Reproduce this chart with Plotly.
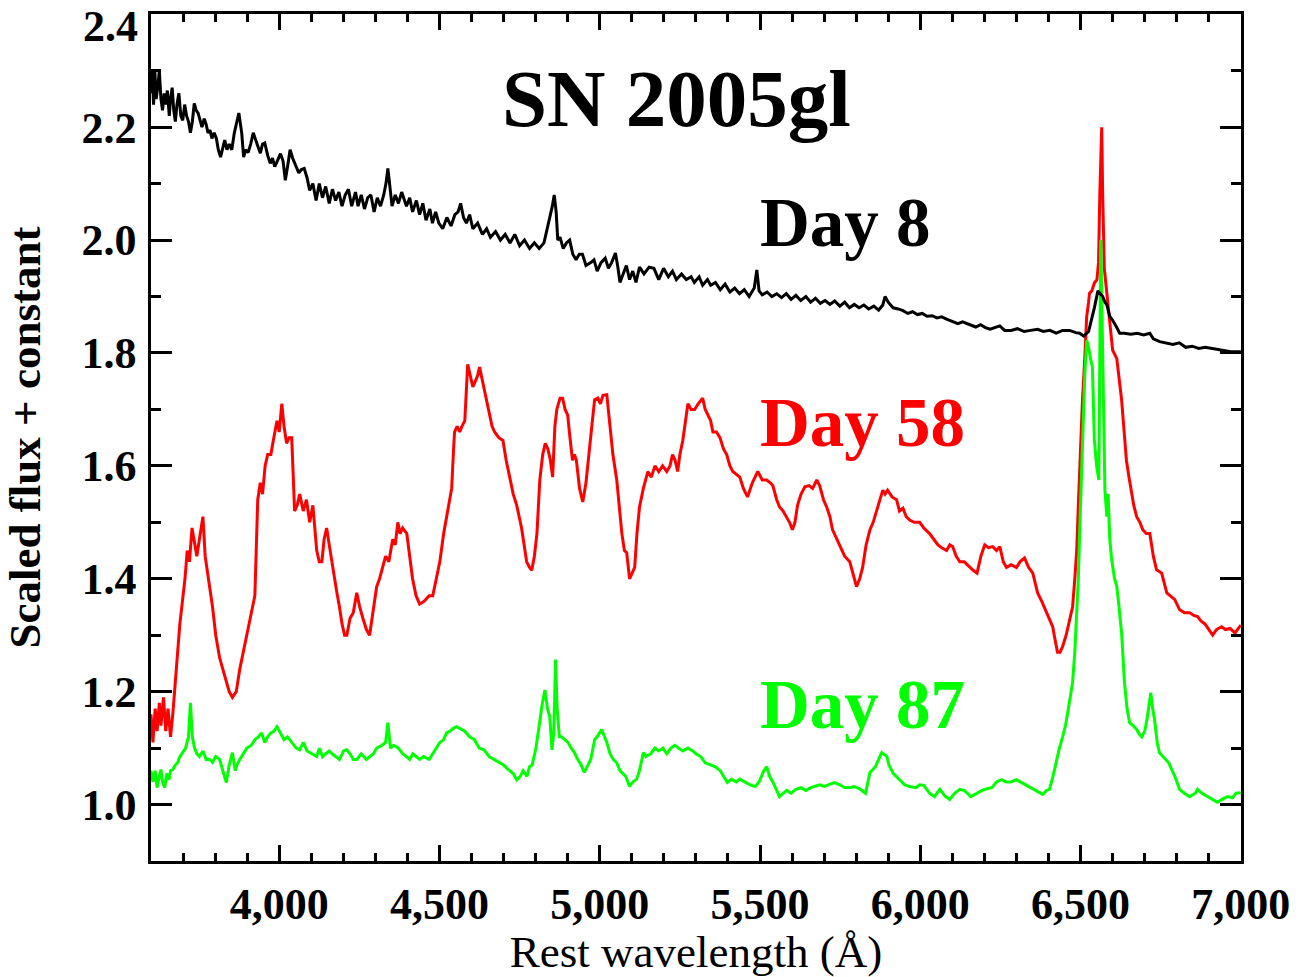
import plotly.graph_objects as go

# ---------------- Data ----------------
day8_wave = [3600,3604,3608,3612,3616,3621,3626,3631,3636,3641,3646,3651,3657,3661,3666,3671,3676,3681,3687,3693,
             3699,3705,3711,3717,3723,3729,3735,3741,3747,3753,3759,3766,3772,3778,3784,3790,3797,3804,3810,3817,
             3824,3830,3837,3844,3852,3860,3868,3874,3883,3889,3895,3903,3911,3919,3925,3933,3941,3948,3955,3964,
             3972,3979,3986,3994,4004,4012,4019,4026,4034,4042,4053,4061,4069,4078,4087,4095,4105,4115,4125,4135,
             4145,4156,4166,4176,4186,4196,4206,4216,4226,4238,4246,4256,4266,4276,4286,4296,4306,4316,4326,4333,
             4339,4345,4352,4362,4372,4382,4397,4407,4416,4428,4438,4448,4458,4470,4478,4488,4498,4510,4523,4536,
             4548,4558,4566,4575,4584,4594,4604,4619,4634,4647,4659,4675,4690,4705,4720,4735,4750,4765,4781,4796,
             4811,4826,4841,4852,4858,4864,4869,4876,4886,4896,4906,4916,4926,4936,4946,4957,4972,4982,4992,5004,
             5017,5027,5037,5049,5057,5063,5073,5083,5093,5103,5113,5124,5138,5154,5169,5184,5199,5214,5227,5239,
             5255,5270,5285,5295,5310,5321,5336,5346,5361,5376,5391,5406,5421,5436,5451,5466,5482,5490,5497,5507,
             5522,5537,5552,5567,5582,5597,5612,5627,5643,5658,5673,5688,5703,5718,5733,5749,5764,5779,5794,5809,
             5824,5839,5855,5870,5883,5890,5900,5915,5931,5946,5961,5976,5991,6006,6021,6037,6052,6067,6082,6101,
             6117,6132,6153,6173,6188,6203,6218,6233,6248,6263,6283,6303,6324,6344,6366,6384,6404,6424,6444,6466,
             6485,6497,6510,6525,6535,6543,6554,6561,6569,6576,6582,6591,6600,6613,6622,6636,6657,6677,6697,6716,
             6727,6747,6768,6788,6808,6828,6848,6869,6889,6909,6929,6949,6969,7000]
day8_flux = [2.26,2.30,2.24,2.30,2.25,2.27,2.30,2.25,2.23,2.26,2.24,2.265,2.22,2.25,2.27,2.23,2.21,2.24,2.26,2.22,
             2.212,2.24,2.22,2.21,2.19,2.21,2.242,2.23,2.225,2.21,2.20,2.215,2.205,2.19,2.195,2.18,2.19,2.18,2.16,2.147,
             2.165,2.177,2.16,2.17,2.16,2.19,2.21,2.225,2.19,2.147,2.16,2.155,2.17,2.19,2.18,2.165,2.154,2.17,2.172,2.15,
             2.136,2.145,2.13,2.14,2.153,2.14,2.106,2.13,2.16,2.145,2.13,2.119,2.125,2.127,2.11,2.088,2.10,2.07,2.10,2.075,
             2.095,2.065,2.09,2.07,2.085,2.06,2.08,2.09,2.06,2.085,2.06,2.08,2.055,2.075,2.08,2.05,2.075,2.06,2.08,2.10,
             2.127,2.09,2.06,2.08,2.065,2.085,2.06,2.075,2.05,2.07,2.045,2.065,2.035,2.055,2.03,2.05,2.03,2.02,2.04,2.025,
             2.045,2.05,2.065,2.04,2.03,2.045,2.02,2.03,2.01,2.02,2.005,2.015,2.00,2.01,1.995,2.01,1.99,2.00,1.985,1.995,
             1.985,1.995,2.03,2.06,2.08,2.05,2.00,2.005,1.985,1.995,2.00,1.975,1.965,1.975,1.975,1.955,1.96,1.965,1.945,1.96,
             1.968,1.95,1.96,1.977,1.95,1.925,1.94,1.955,1.93,1.945,1.925,1.952,1.94,1.952,1.95,1.93,1.95,1.935,1.945,1.93,
             1.94,1.93,1.935,1.925,1.935,1.92,1.93,1.92,1.925,1.912,1.922,1.908,1.915,1.905,1.912,1.90,1.915,1.947,1.91,1.903,
             1.908,1.90,1.905,1.898,1.905,1.895,1.902,1.893,1.90,1.89,1.897,1.888,1.893,1.886,1.892,1.883,1.89,1.88,1.886,1.88,
             1.885,1.878,1.883,1.876,1.885,1.90,1.89,1.88,1.878,1.875,1.87,1.873,1.868,1.87,1.865,1.866,1.862,1.864,1.86,1.855,
             1.852,1.855,1.85,1.846,1.85,1.845,1.842,1.845,1.848,1.84,1.84,1.843,1.838,1.84,1.842,1.838,1.84,1.835,1.84,1.84,
             1.836,1.835,1.83,1.838,1.86,1.88,1.91,1.905,1.90,1.89,1.885,1.865,1.858,1.845,1.835,1.835,1.833,1.835,1.832,1.835,
             1.825,1.82,1.818,1.815,1.818,1.81,1.812,1.808,1.81,1.808,1.806,1.804,1.802,1.802]

day58_wave = [3600,3606,3613,3619,3626,3631,3639,3646,3653,3661,3668,3676,3683,3690,3698,3706,3713,3720,3728,3736,
              3743,3751,3762,3769,3777,3783,3792,3802,3814,3824,3834,3844,3854,3866,3877,3888,3903,3915,3924,3933,
              3941,3948,3956,3964,3974,3980,3986,3993,4000,4008,4015,4023,4031,4039,4048,4056,4064,4075,4085,4095,
              4105,4112,4117,4125,4133,4140,4148,4156,4164,4172,4180,4188,4196,4204,4211,4221,4231,4242,4251,4261,
              4272,4282,4292,4304,4313,4322,4332,4342,4354,4362,4370,4377,4385,4398,4407,4416,4427,4438,4452,4468,
              4479,4490,4501,4513,4522,4530,4538,4544,4547,4555,4563,4570,4579,4588,4596,4604,4612,4619,4625,4634,
              4641,4649,4656,4664,4672,4685,4698,4708,4719,4730,4741,4748,4756,4764,4772,4781,4788,4796,4804,4813,
              4822,4830,4838,4846,4853,4860,4866,4876,4884,4892,4900,4907,4915,4921,4927,4937,4947,4957,4969,4977,
              4984,4994,5002,5010,5022,5031,5041,5053,5061,5069,5077,5084,5093,5101,5109,5116,5124,5136,5150,5161,
              5172,5184,5196,5209,5219,5227,5235,5243,5250,5259,5267,5275,5285,5296,5307,5321,5329,5337,5346,5353,
              5364,5375,5386,5396,5406,5415,5426,5437,5448,5461,5476,5493,5507,5521,5532,5540,5552,5561,5572,5583,
              5592,5601,5609,5617,5628,5640,5653,5664,5677,5686,5698,5708,5718,5726,5739,5749,5764,5780,5789,5801,
              5811,5820,5831,5843,5853,5864,5874,5883,5890,5898,5912,5926,5935,5946,5956,5967,5981,5998,6011,6029,
              6042,6055,6067,6082,6092,6101,6112,6123,6137,6154,6165,6177,6189,6201,6213,6226,6238,6248,6259,6269,
              6283,6300,6311,6325,6338,6351,6359,6366,6379,6394,6404,6413,6421,6428,6436,6444,6455,6466,6475,6482,
              6488,6493,6497,6502,6506,6513,6519,6525,6528,6535,6543,6551,6556,6560,6566,6569,6574,6582,6591,6600,
              6613,6622,6628,6636,6643,6651,6659,6666,6675,6685,6694,6705,6716,6727,6737,6753,6769,6781,6794,6809,
              6824,6840,6853,6865,6876,6888,6899,6912,6924,6940,6952,6966,6982,7000]
day58_flux = [1.16,1.11,1.17,1.13,1.18,1.14,1.19,1.13,1.17,1.12,1.16,1.22,1.27,1.32,1.36,1.40,1.45,1.43,1.49,1.46,
              1.44,1.47,1.51,1.44,1.41,1.39,1.35,1.30,1.26,1.24,1.22,1.20,1.19,1.20,1.24,1.27,1.31,1.34,1.37,1.54,
              1.57,1.55,1.60,1.62,1.62,1.64,1.66,1.68,1.66,1.71,1.67,1.64,1.65,1.65,1.52,1.53,1.55,1.52,1.54,1.50,
              1.53,1.49,1.45,1.43,1.43,1.47,1.49,1.46,1.43,1.40,1.375,1.35,1.32,1.30,1.30,1.33,1.34,1.375,1.35,1.33,
              1.31,1.30,1.34,1.386,1.40,1.42,1.44,1.43,1.47,1.46,1.50,1.48,1.49,1.48,1.44,1.40,1.37,1.355,1.36,1.37,
              1.37,1.40,1.43,1.48,1.51,1.54,1.56,1.63,1.66,1.67,1.66,1.67,1.68,1.78,1.76,1.74,1.75,1.76,1.775,1.75,
              1.73,1.71,1.69,1.67,1.66,1.65,1.645,1.61,1.58,1.55,1.53,1.51,1.49,1.46,1.43,1.42,1.415,1.44,1.48,1.575,
              1.62,1.64,1.63,1.61,1.58,1.67,1.70,1.72,1.72,1.70,1.69,1.65,1.61,1.62,1.61,1.56,1.536,1.57,1.63,1.68,
              1.717,1.72,1.71,1.725,1.726,1.67,1.62,1.575,1.52,1.48,1.45,1.446,1.40,1.41,1.42,1.48,1.527,1.56,1.59,1.58,
              1.60,1.59,1.60,1.59,1.60,1.62,1.61,1.59,1.62,1.645,1.68,1.71,1.70,1.70,1.71,1.72,1.70,1.69,1.68,1.66,
              1.66,1.65,1.63,1.62,1.60,1.59,1.585,1.58,1.56,1.545,1.57,1.59,1.575,1.575,1.57,1.565,1.54,1.527,1.52,1.51,
              1.50,1.487,1.50,1.53,1.55,1.563,1.565,1.56,1.575,1.565,1.54,1.527,1.51,1.487,1.47,1.457,1.44,1.43,1.41,1.386,
              1.40,1.42,1.46,1.487,1.50,1.52,1.54,1.557,1.55,1.557,1.545,1.54,1.52,1.525,1.51,1.504,1.50,1.50,1.49,1.48,
              1.47,1.46,1.455,1.45,1.46,1.457,1.44,1.43,1.43,1.42,1.415,1.41,1.44,1.46,1.455,1.457,1.45,1.457,1.43,1.42,
              1.425,1.42,1.43,1.437,1.42,1.41,1.39,1.375,1.36,1.34,1.33,1.315,1.29,1.27,1.27,1.28,1.30,1.327,1.35,1.40,
              1.45,1.53,1.60,1.66,1.717,1.79,1.864,1.89,1.906,1.91,1.924,1.93,1.96,2.08,2.20,2.08,1.95,1.906,1.858,1.805,
              1.79,1.747,1.717,1.66,1.61,1.58,1.552,1.53,1.51,1.50,1.487,1.48,1.48,1.44,1.416,1.41,1.375,1.37,1.363,1.345,
              1.34,1.34,1.335,1.333,1.325,1.32,1.31,1.30,1.31,1.315,1.31,1.312,1.304,1.318]

day87_wave = [3600,3606,3613,3619,3626,3631,3636,3643,3649,3656,3661,3668,3676,3683,3690,3699,3708,3717,3723,3729,
              3736,3743,3751,3762,3772,3783,3792,3802,3814,3824,3835,3844,3854,3863,3868,3877,3888,3899,3913,3924,
              3935,3945,3955,3964,3974,3984,3993,4004,4015,4026,4039,4053,4064,4075,4087,4100,4117,4125,4135,4145,
              4156,4165,4176,4188,4201,4211,4221,4231,4242,4256,4272,4282,4294,4304,4321,4332,4339,4347,4357,4372,
              4385,4397,4407,4417,4428,4438,4450,4468,4479,4490,4501,4513,4522,4533,4543,4553,4563,4579,4594,4609,
              4624,4639,4655,4670,4685,4700,4715,4730,4741,4752,4761,4773,4781,4789,4801,4813,4821,4829,4837,4844,
              4851,4857,4862,4867,4874,4881,4891,4901,4911,4921,4931,4942,4952,4962,4972,4984,4992,5006,5015,5022,
              5032,5042,5053,5063,5081,5093,5103,5115,5124,5136,5144,5159,5172,5184,5197,5209,5222,5234,5246,5259,
              5275,5290,5300,5315,5329,5346,5361,5376,5386,5398,5411,5426,5437,5451,5469,5485,5497,5512,5521,5530,
              5540,5552,5561,5572,5583,5597,5612,5628,5643,5658,5671,5686,5700,5715,5732,5749,5764,5780,5794,5811,
              5829,5843,5860,5870,5880,5896,5902,5916,5934,5951,5967,5986,5998,6011,6029,6044,6061,6077,6092,6107,
              6123,6137,6158,6175,6193,6208,6223,6238,6253,6268,6283,6300,6313,6329,6344,6364,6382,6394,6403,6414,
              6425,6434,6444,6453,6460,6467,6475,6482,6488,6493,6497,6502,6506,6513,6519,6525,6531,6537,6543,6550,
              6557,6561,6563,6566,6569,6573,6576,6582,6586,6591,6597,6606,6613,6620,6628,6637,6645,6653,6664,6675,
              6683,6691,6700,6707,6713,6719,6725,6731,6739,6746,6757,6775,6794,6809,6824,6840,6858,6865,6879,6896,
              6909,6927,6944,6959,6974,6985,7000]
day87_flux = [1.06,1.04,1.06,1.03,1.05,1.062,1.04,1.03,1.055,1.044,1.06,1.062,1.07,1.074,1.085,1.092,1.10,1.12,1.18,1.12,
              1.10,1.09,1.085,1.095,1.08,1.08,1.075,1.085,1.08,1.06,1.039,1.07,1.092,1.06,1.07,1.08,1.09,1.10,1.105,1.115,
              1.12,1.127,1.11,1.12,1.127,1.13,1.138,1.125,1.115,1.12,1.11,1.10,1.097,1.11,1.095,1.09,1.085,1.10,1.085,1.09,
              1.095,1.09,1.085,1.08,1.095,1.097,1.09,1.08,1.08,1.09,1.08,1.085,1.09,1.10,1.105,1.11,1.145,1.10,1.105,1.10,
              1.09,1.085,1.08,1.09,1.085,1.08,1.085,1.08,1.09,1.10,1.11,1.115,1.127,1.13,1.135,1.138,1.135,1.13,1.12,1.115,
              1.10,1.097,1.085,1.08,1.074,1.07,1.062,1.055,1.044,1.05,1.06,1.05,1.067,1.07,1.10,1.15,1.18,1.203,1.17,1.156,
              1.097,1.13,1.257,1.17,1.12,1.12,1.115,1.11,1.10,1.092,1.08,1.07,1.057,1.07,1.08,1.115,1.12,1.133,1.12,1.11,
              1.09,1.08,1.074,1.06,1.05,1.032,1.04,1.045,1.06,1.092,1.085,1.09,1.10,1.095,1.10,1.09,1.10,1.105,1.10,1.095,
              1.10,1.095,1.09,1.085,1.074,1.07,1.067,1.06,1.05,1.039,1.045,1.04,1.045,1.04,1.035,1.032,1.04,1.06,1.067,1.05,
              1.04,1.025,1.014,1.02,1.025,1.02,1.027,1.03,1.025,1.03,1.032,1.035,1.032,1.035,1.039,1.035,1.03,1.03,1.032,1.028,
              1.02,1.057,1.067,1.08,1.092,1.085,1.07,1.055,1.045,1.035,1.032,1.03,1.035,1.034,1.02,1.014,1.027,1.015,1.009,1.02,
              1.027,1.025,1.014,1.02,1.025,1.028,1.03,1.04,1.044,1.04,1.04,1.044,1.04,1.035,1.03,1.025,1.018,1.025,1.027,1.05,
              1.08,1.10,1.12,1.14,1.163,1.19,1.216,1.27,1.333,1.40,1.48,1.57,1.66,1.76,1.823,1.81,1.79,1.775,1.646,1.60,
              1.575,1.80,2.00,1.90,1.80,1.60,1.557,1.51,1.55,1.47,1.434,1.40,1.386,1.35,1.304,1.216,1.17,1.145,1.14,1.133,
              1.125,1.12,1.13,1.15,1.17,1.198,1.17,1.15,1.11,1.092,1.085,1.074,1.05,1.027,1.02,1.014,1.02,1.027,1.02,1.014,
              1.01,1.004,1.01,1.014,1.012,1.02,1.021]

x_tick_vals = [4000, 4500, 5000, 5500, 6000, 6500, 7000]
x_tick_text = ["4,000", "4,500", "5,000", "5,500", "6,000", "6,500", "7,000"]
y_tick_vals = [1.0, 1.2, 1.4, 1.6, 1.8, 2.0, 2.2, 2.4]
y_tick_text = ["1.0", "1.2", "1.4", "1.6", "1.8", "2.0", "2.2", "2.4"]

FONT = "Liberation Serif, Times New Roman, serif"
LW = 3
TICKFONT = dict(family=FONT, size=44, color="black", weight="bold")

fig = go.Figure()
fig.add_trace(go.Scatter(x=day58_wave, y=day58_flux, mode="lines",
                         line=dict(color="#ff0000", width=LW), name="Day 58"))
fig.add_trace(go.Scatter(x=day87_wave, y=day87_flux, mode="lines",
                         line=dict(color="#00ff00", width=LW), name="Day 87"))
fig.add_trace(go.Scatter(x=day8_wave, y=day8_flux, mode="lines",
                         line=dict(color="#000000", width=LW), name="Day 8"))

axis_common = dict(
    showline=True, linewidth=2.6, linecolor="black", mirror="allticks",
    ticks="inside", tickwidth=2.6, tickcolor="black",
    showgrid=False, zeroline=False, tickfont=TICKFONT,
)

fig.update_xaxes(**axis_common, range=[3600, 7000.5], tickvals=x_tick_vals, ticktext=x_tick_text,
                 ticklen=16, ticklabelstandoff=2,
                 minor=dict(ticks="inside", ticklen=8, tickwidth=2.6, tickcolor="black", dtick=100, tick0=4000),
                 title=dict(text="Rest wavelength (Å)", font=dict(family=FONT, size=45, color="black"), standoff=12))
fig.update_yaxes(**axis_common, range=[0.9, 2.4005], tickvals=y_tick_vals, ticktext=y_tick_text,
                 ticklen=21, ticklabelstandoff=3,
                 minor=dict(ticks="inside", ticklen=10, tickwidth=2.6, tickcolor="black", dtick=0.1, tick0=1.0),
                 title=dict(text="Scaled flux + constant",
                            font=dict(family=FONT, size=45, color="black", weight="bold"), standoff=32))

# the top tick label would overflow the page, so it is drawn nudged downwards (as in the reference)
fig.add_annotation(x=0, y=y_tick_vals[-1], xref="paper", yref="y", text=y_tick_text[-1],
                   showarrow=False, xanchor="right", yanchor="middle", xshift=-12, yshift=-12,
                   borderpad=0, font=TICKFONT)

def label(text, x, y, size, color):
    fig.add_annotation(x=x, y=y, xref="x", yref="y", text=text, showarrow=False,
                       xanchor="left", yanchor="middle",
                       font=dict(family=FONT, size=size, color=color, weight="bold"))

label("SN 2005gl", 4690, 2.250, 81, "black")
label("Day 8", 5493, 2.030, 69, "black")
label("Day 58", 5493, 1.676, 69, "#ff0000")
label("Day 87", 5493, 1.177, 69, "#00ff00")

fig.update_layout(
    width=1304, height=977,
    margin=dict(l=151, r=63, t=14, b=116, autoexpand=False),
    paper_bgcolor="white", plot_bgcolor="white",
    showlegend=False,
)

fig.write_html("out.html", config={"displayModeBar": False},
               post_script="document.body.style.margin='0';document.body.style.overflow='hidden';")
